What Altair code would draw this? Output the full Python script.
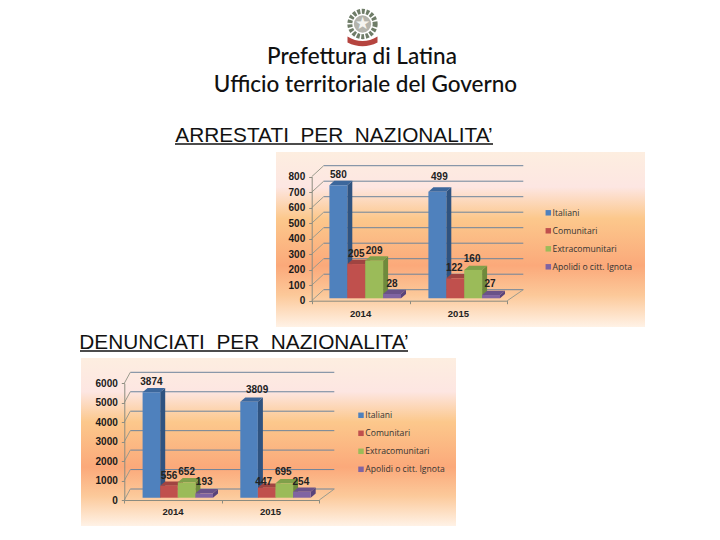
import altair as alt
import pandas as pd

years = ["2014", "2015"]
series = ["Italiani", "Comunitari", "Extracomunitari", "Apolidi o citt. Ignota"]
front = ["#4f81bd", "#c0504d", "#9bbb59", "#8064a2"]
side = ["#2f5380", "#8c3836", "#6e8a3c", "#59437a"]
top = ["#3c679c", "#a04441", "#80a04a", "#6a5288"]

arrest_heights = [[730, 221, 243, 28], [688, 129, 183, 21]]
arrest_labels = [[580, 205, 209, 28], [499, 122, 160, 27]]
arrest_ticks = [0, 100, 200, 300, 400, 500, 600, 700, 800]

denun_heights = [[5417, 617, 788, 223], [4937, 514, 737, 309]]
denun_labels = [[3874, 556, 652, 193], [3809, 447, 695, 254]]
denun_ticks = [0, 1000, 2000, 3000, 4000, 5000, 6000]

stops = [
    alt.GradientStop(offset=0, color="#fdeee0"),
    alt.GradientStop(offset=0.2, color="#fde6e2"),
    alt.GradientStop(offset=0.38, color="#fcc88c"),
    alt.GradientStop(offset=0.65, color="#fba97a"),
    alt.GradientStop(offset=0.82, color="#fcc99a"),
    alt.GradientStop(offset=1, color="#fff2e6"),
]
grad = alt.Gradient(gradient="linear", stops=stops, x1=0, x2=0, y1=0, y2=1)
M = 8
W, H = 704, 524


def panel(cfg, heights, labels, ticks):
    layers = []
    x0, x1 = cfg["ax_x"]
    y0, ytop = cfg["ax_y"]
    x0, x1, y0, ytop = x0 - M, x1 - M, y0 - M, ytop - M
    dom = [0, ticks[-1]]
    ppx = (x1 - x0) / 2
    ppy = (y0 - ytop) / ticks[-1]
    xs = alt.Scale(domain=[0, 2], range=[x0, x1], nice=False, zero=False)
    ys_axis = alt.Scale(domain=dom, range=[y0, ytop], nice=False, zero=False)
    fl = cfg["floor"] - M
    ys_bar = alt.Scale(domain=dom, range=[fl, fl - (y0 - ytop)], nice=False, zero=False)

    # background
    bx0, bx1, by0, by1 = cfg["bg"]
    layers.append(
        alt.Chart(pd.DataFrame({"a": [0]})).mark_rect(fill=grad).encode(
            x=alt.value(bx0 - M), x2=alt.value(bx1 - M),
            y=alt.value(by0 - M), y2=alt.value(by1 - M))
    )
    # walls
    wdx, wdy = cfg["wall"][0] / ppx, cfg["wall"][1] / ppy
    grid = pd.DataFrame([{"x": wdx, "x2": 2 + cfg["wall"][2] / ppx, "y": t + wdy, "y2": t + wdy} for t in ticks])
    layers.append(
        alt.Chart(grid).mark_rule(color="#6d849c", strokeWidth=1).encode(
            x=alt.X("x:Q", scale=xs, axis=None), x2="x2:Q",
            y=alt.Y("y:Q", scale=ys_axis, axis=None), y2="y2:Q")
    )
    diag = pd.DataFrame(
        [{"x": 0, "x2": wdx, "y": t, "y2": t + wdy} for t in ticks]
        + [{"x": 2, "x2": 2 + cfg["wall"][2] / ppx, "y": 0, "y2": wdy}]
    )
    layers.append(
        alt.Chart(diag).mark_rule(color="#9b9b8e", strokeWidth=1).encode(
            x=alt.X("x:Q", scale=xs, axis=None), x2="x2:Q",
            y=alt.Y("y:Q", scale=ys_axis, axis=None), y2="y2:Q")
    )
    # axes
    layers.append(
        alt.Chart(pd.DataFrame({"x": [0, 2], "y": dom})).mark_point(opacity=0).encode(
            x=alt.X("x:Q", scale=xs, axis=alt.Axis(
                orient="bottom", zindex=1, values=[0, 1, 2], labels=False, title=None, grid=False,
                domainColor="#8c8c80", tickColor="#8c8c80", tickSize=3, offset=y0 - H)),
            y=alt.Y("y:Q", scale=ys_axis, axis=alt.Axis(
                orient="left", zindex=1, values=ticks, format="d", title=None, grid=False,
                domainColor="#8c8c80", tickColor="#8c8c80",
                tickSize=3, labelFont="Liberation Sans", labelFontSize=10, labelFontWeight="bold",
                labelColor="#1a1a1a", labelPadding=4, offset=-x0)),
        )
    )
    # bars
    bw = cfg["bw"] / ppx
    d = cfg["depth"][0] / ppx
    dy = cfg["depth"][1] / ppy
    polys, rects, texts = [], [], []
    for g in range(2):
        for s in range(4):
            left = cfg["bar_x"][g] / ppx + s * bw
            right = left + bw
            v = heights[g][s]
            polys += [
                {"key": f"k{g}{s}s", "x": right, "y": v, "y2": 0, "c": side[s]},
                {"key": f"k{g}{s}s", "x": right + d, "y": v + dy, "y2": dy, "c": side[s]},
                {"key": f"k{g}{s}t", "x": left, "y": v, "y2": v, "c": top[s]},
                {"key": f"k{g}{s}t", "x": left + d, "y": v + dy, "y2": v, "c": top[s]},
                {"key": f"k{g}{s}t", "x": right, "y": v + dy, "y2": v, "c": top[s]},
                {"key": f"k{g}{s}t", "x": right + d, "y": v + dy, "y2": v + dy, "c": top[s]},
            ]
            rects.append({"x": left, "x2": right, "y": v, "y2": 0, "serie": series[s]})
            nx, ny = cfg["nudge"][g][s]
            texts.append({"x": (left + right) / 2 + nx / ppx, "y": v + ny / ppy, "t": str(labels[g][s])})
    layers.append(
        alt.Chart(pd.DataFrame(polys)).mark_area(opacity=1).encode(
            x=alt.X("x:Q", scale=xs, axis=None),
            y=alt.Y("y:Q", scale=ys_bar, axis=None, stack=None),
            y2=alt.Y2("y2"),
            fill=alt.Fill("c:N", scale=None),
            detail="key:N")
    )
    layers.append(
        alt.Chart(pd.DataFrame(rects)).mark_rect().encode(
            x=alt.X("x:Q", scale=xs, axis=None), x2="x2:Q",
            y=alt.Y("y:Q", scale=ys_bar, axis=None), y2="y2:Q",
            color=alt.Color("serie:N", scale=alt.Scale(domain=series, range=front), legend=alt.Legend(
                title=None, orient="none", legendX=cfg["legend"][0] - M, legendY=cfg["legend"][1] - M,
                symbolType="square", symbolSize=30, symbolStrokeWidth=0, labelFont="Open Sans",
                labelFontSize=8.6, labelColor="#333333", labelOffset=0, rowPadding=cfg["legend"][2],
                padding=0)))
    )
    layers.append(
        alt.Chart(pd.DataFrame(texts)).mark_text(
            font="Liberation Sans", fontSize=10, fontWeight="bold", color="#222222", baseline="middle", align="center"
        ).encode(
            x=alt.X("x:Q", scale=xs, axis=None),
            y=alt.Y("y:Q", scale=ys_bar, axis=None), text="t:N")
    )
    yr = pd.DataFrame({"x": [0.5 + cfg["yr"] / ppx, 1.5 + cfg["yr"] / ppx], "t": years})
    layers.append(
        alt.Chart(yr).mark_text(
            font="Liberation Sans", fontSize=9.5, fontWeight="bold", color="#222222"
        ).encode(x=alt.X("x:Q", scale=xs, axis=None), y=alt.value(cfg["yr_y"] - M), text="t:N")
    )
    return layers


cfg1 = dict(
    bg=(276, 645, 152, 327), ax_x=(311.7, 507.3), ax_y=(300.7, 176.7), floor=298.3,
    wall=(12, 11, 16), bw=17.9, depth=(5, 4.3), bar_x=(17.7, 116.7), legend=(544, 208.5, 9),
    yr=0, yr_y=314,
    nudge=[[(0, 10), (0, 10), (0, 10), (0, 10)], [(2, 15), (-1, 10), (-1, 11), (-1, 11)]],
)
cfg2 = dict(
    bg=(81, 456, 358, 526), ax_x=(124.3, 319.3), ax_y=(500, 383.3), floor=497.7,
    wall=(6, 11, 15), bw=17.6, depth=(5, 4.3), bar_x=(18.3, 116.0), legend=(356.7, 411, 9),
    yr=0, yr_y=511.7,
    nudge=[[(0, 10.5), (0, 10), (0, 10), (0, 11)], [(8, 12), (-3, 6), (-1, 11), (-1, 10)]],
)


def label(txt, px, py, font, size, color="#111111", **kw):
    return alt.Chart(pd.DataFrame({"t": [txt]})).mark_text(
        font=font, fontSize=size, color=color, align="center", baseline="middle", **kw
    ).encode(x=alt.value(px - M), y=alt.value(py - M), text="t:N")


def underline(xa, xb, py):
    return alt.Chart(pd.DataFrame({"a": [0]})).mark_rule(color="#111111", strokeWidth=1.4).encode(
        x=alt.value(xa - M), x2=alt.value(xb - M), y=alt.value(py - M))


def emblem():
    def pt(px, py, **kw):
        return alt.Chart(pd.DataFrame({"a": [0]})).mark_point(**kw).encode(
            x=alt.value(px - M), y=alt.value(py - M))
    return [
        pt(362.5, 24, filled=False, size=640, stroke="#6f7d68", strokeWidth=5, strokeDash=[3, 1.5], opacity=1),
        pt(362.5, 24, filled=True, size=300, color="#b4b4ac", opacity=1),
        label("★", 362.5, 24, "DejaVu Sans", 17, color="#f4f4f0"),
        pt(362.5, 41, filled=True, shape="M-1,-0.3 Q0,0.3 1,-0.3 L1,0.1 Q0,0.6 -1,0.1 Z", size=900,
           color="#b5443f", opacity=1),
    ]


layers = []
layers += emblem()
layers += [
    label("Prefettura di Latina", 362, 57, "Lato", 22.5, fontWeight=500),
    label("Ufficio territoriale del Governo", 365.5, 85, "Lato", 22.5, fontWeight=500),
    label("ARRESTATI\u00a0\u00a0PER\u00a0\u00a0NAZIONALITA’", 334, 135.5, "Liberation Sans", 20.8),
    underline(175, 493, 144),
    label("DENUNCIATI\u00a0\u00a0PER\u00a0\u00a0NAZIONALITA’", 244, 343, "Liberation Sans", 20.8),
    underline(80, 408, 351),
]
layers += panel(cfg1, arrest_heights, arrest_labels, arrest_ticks)
layers += panel(cfg2, denun_heights, denun_labels, denun_ticks)

chart = alt.layer(*layers).resolve_scale(
    x="independent", y="independent", color="independent", fill="independent"
).properties(
    width=W, height=H, padding=0, autosize=alt.AutoSizeParams(type="none")
).configure_view(stroke=None)

chart.save("out.html", embed_options={"renderer": "svg", "actions": False})
